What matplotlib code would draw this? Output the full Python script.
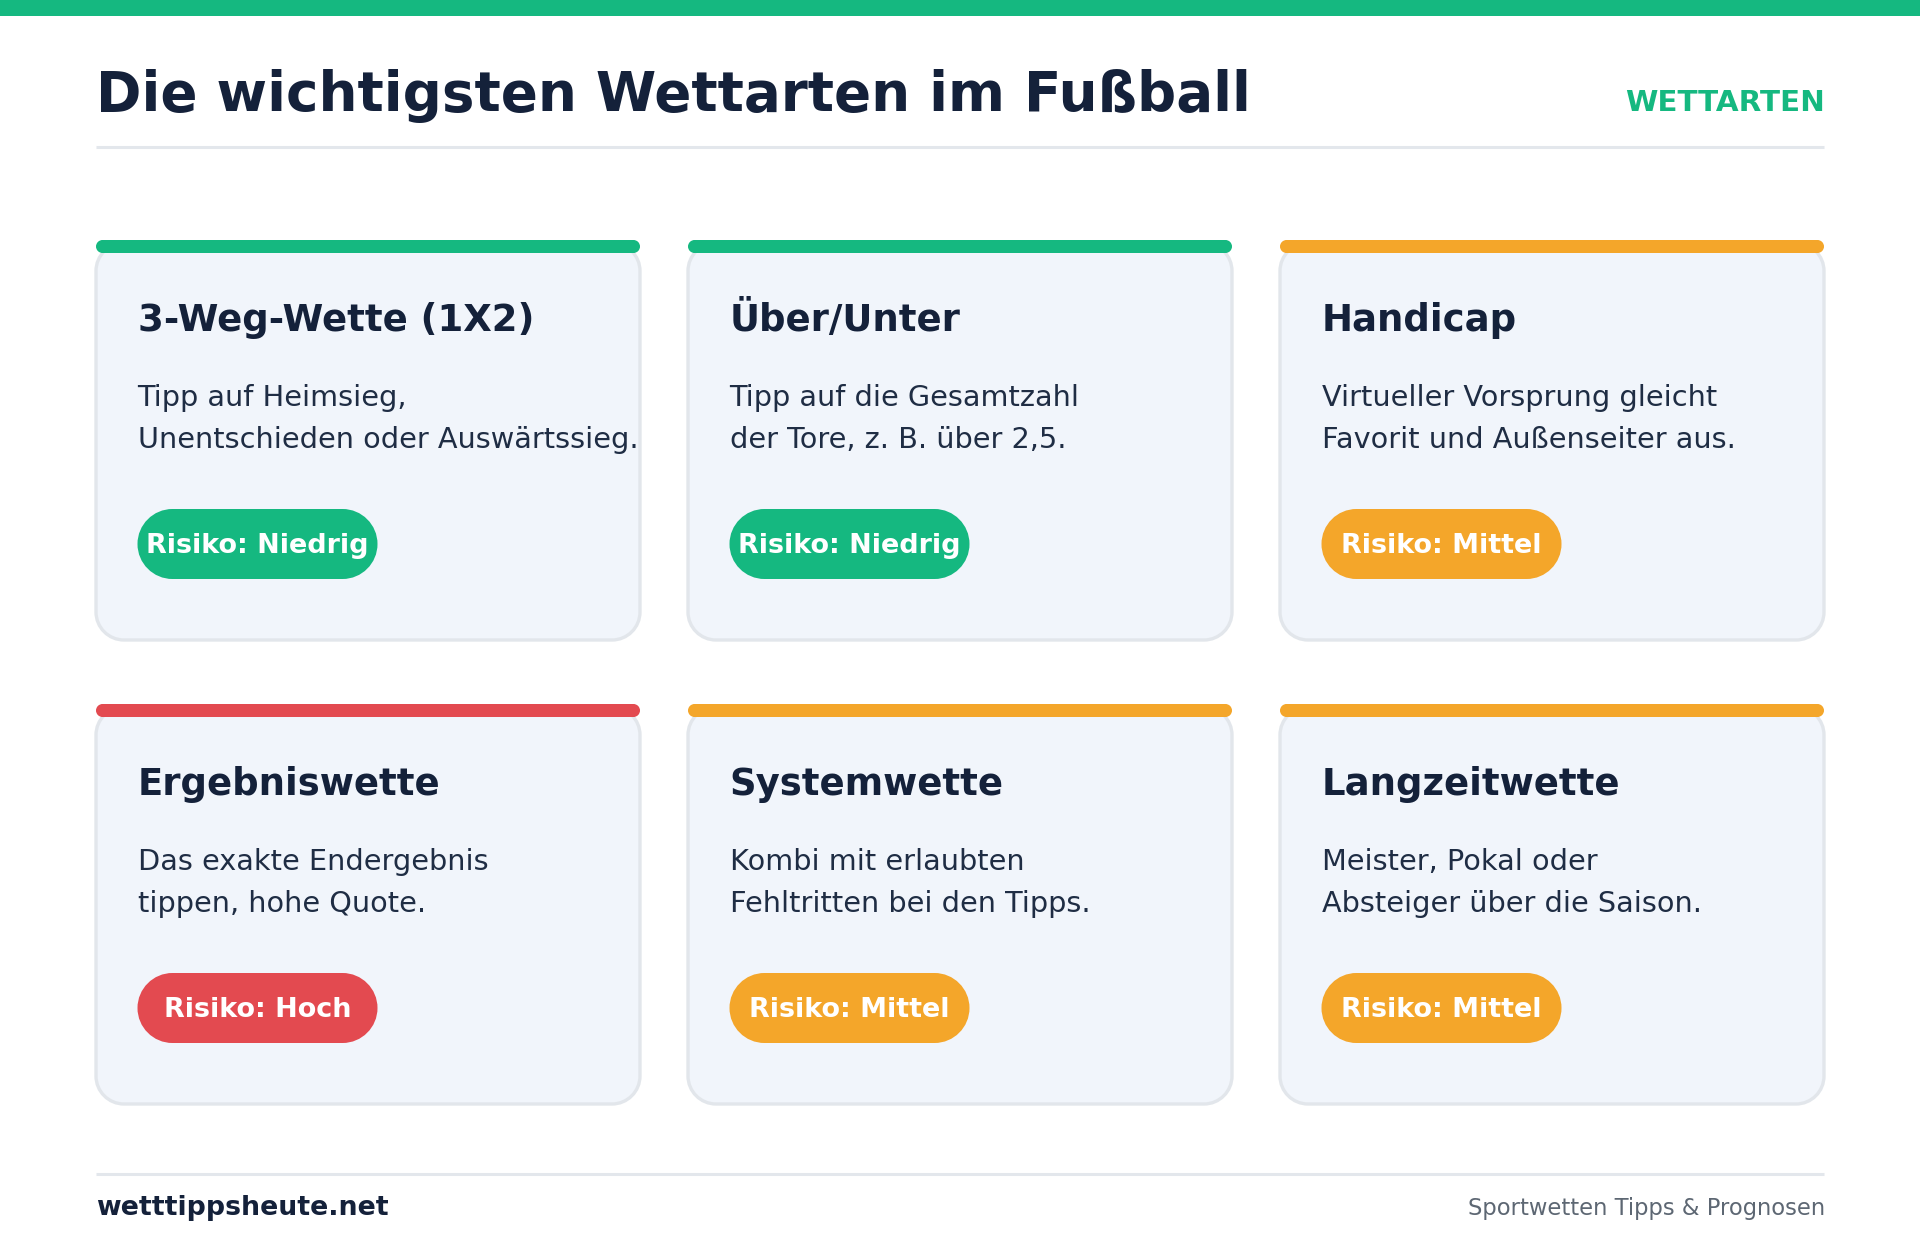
import matplotlib
matplotlib.use('Agg')
import matplotlib.pyplot as plt
from matplotlib.patches import PathPatch, Rectangle
from matplotlib.path import Path

# Inhalt der Karten
names = ["3-Weg-Wette (1X2)", "Über/Unter", "Handicap",
         "Ergebniswette", "Systemwette", "Langzeitwette"]
desc_first = ["Tipp auf Heimsieg,", "Tipp auf die Gesamtzahl", "Virtueller Vorsprung gleicht",
              "Das exakte Endergebnis", "Kombi mit erlaubten", "Meister, Pokal oder"]
desc_second = ["Unentschieden oder Auswärtssieg.", "der Tore, z. B. über 2,5.", "Favorit und Außenseiter aus.",
               "tippen, hohe Quote.", "Fehltritten bei den Tipps.", "Absteiger über die Saison."]
risks = ["Niedrig", "Niedrig", "Mittel", "Hoch", "Mittel", "Mittel"]

RISK_COLORS = {"Niedrig": "#15b880", "Mittel": "#f4a62a", "Hoch": "#e34a50"}
DARK = "#14213a"
TEXT = "#1f2d44"
GREEN = "#15b880"
RULE = "#e3e7ec"


def px(size):
    # Pixelgröße in Punkt bei dpi=100
    return size * 0.72


def rounded(x, y, w, h, r, **kwargs):
    # echte Kreisbögen (CURVE4), FancyBboxPatch wirkt sonst zu eckig
    k = r * (1 - 0.5523)
    x2, y2 = x + w, y + h
    verts = [(x + r, y), (x2 - r, y),
             (x2 - k, y), (x2, y + k), (x2, y + r), (x2, y2 - r),
             (x2, y2 - k), (x2 - k, y2), (x2 - r, y2), (x + r, y2),
             (x + k, y2), (x, y2 - k), (x, y2 - r), (x, y + r),
             (x, y + k), (x + k, y), (x + r, y), (x + r, y)]
    codes = [Path.MOVETO, Path.LINETO,
             Path.CURVE4, Path.CURVE4, Path.CURVE4, Path.LINETO,
             Path.CURVE4, Path.CURVE4, Path.CURVE4, Path.LINETO,
             Path.CURVE4, Path.CURVE4, Path.CURVE4, Path.LINETO,
             Path.CURVE4, Path.CURVE4, Path.CURVE4, Path.CLOSEPOLY]
    return PathPatch(Path(verts, codes), **kwargs)


fig = plt.figure(figsize=(19.2, 12.48), dpi=100, facecolor="white")
ax = fig.add_axes([0, 0, 1, 1])
ax.set_xlim(0, 1920)
ax.set_ylim(1248, 0)
ax.axis("off")

# Kopfbereich
ax.add_patch(Rectangle((0, 0), 1920, 16, color=GREEN, lw=0))
ax.text(96, 111, "Die wichtigsten Wettarten im Fußball", fontsize=px(54.7), fontweight="bold",
        color=DARK, va="baseline", ha="left")
ax.text(1825, 111, "WETTARTEN", fontsize=px(29.4), fontweight="bold", color=GREEN,
        va="baseline", ha="right")
ax.plot([96, 1824], [147, 147], color=RULE, lw=2.2, solid_capstyle="butt")

# Karten
CARD_W, CARD_H = 544, 400
for i, name in enumerate(names):
    x = 96 + (i % 3) * 592
    y = 240 + (i // 3) * 464
    color = RISK_COLORS[risks[i]]

    # Karte etwas tiefer beginnen, damit der Rand nicht über dem Streifen hervorsteht
    ax.add_patch(rounded(x, y + 3, CARD_W, CARD_H - 3, 28, facecolor="#f1f5fb", edgecolor="#e2e6eb",
                         lw=2.4, zorder=1))
    ax.add_patch(rounded(x, y, CARD_W, 13, 6.5, facecolor=color, edgecolor="none", zorder=2))

    ax.text(x + 41.5, y + 91, name, fontsize=px(37), fontweight="bold", color=DARK,
            va="baseline", zorder=3)
    ax.text(x + 41.5, y + 166, desc_first[i], fontsize=px(28.8), color=TEXT, va="baseline", zorder=3)
    ax.text(x + 41.5, y + 208, desc_second[i], fontsize=px(28.8), color=TEXT, va="baseline", zorder=3)

    ax.add_patch(rounded(x + 41.5, y + 269, 240, 70, 35, facecolor=color, edgecolor="none", zorder=2))
    ax.text(x + 161.5, y + 313, "Risiko: " + risks[i], fontsize=px(27), fontweight="bold",
            color="white", va="baseline", ha="center", zorder=3)

# Fußzeile
ax.plot([96, 1824], [1174, 1174], color=RULE, lw=2.2, solid_capstyle="butt")
ax.text(96, 1215, "wetttippsheute.net", fontsize=px(26.7), fontweight="bold", color=DARK, va="baseline")
ax.text(1825, 1215, "Sportwetten Tipps & Prognosen", fontsize=px(22.6), color="#5d6773",
        va="baseline", ha="right")

fig.savefig("out.png", dpi=100, facecolor="white")
plt.close(fig)
